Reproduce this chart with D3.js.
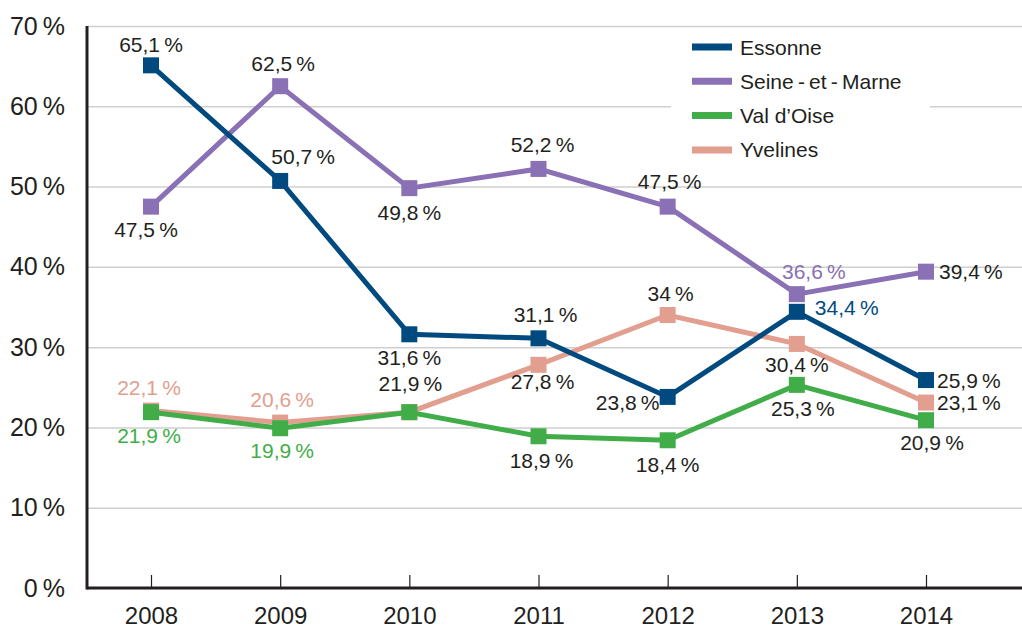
<!DOCTYPE html>
<html>
<head>
<meta charset="utf-8">
<script src="https://cdn.jsdelivr.net/npm/d3@7"></script>
<style>
  body { margin: 0; background: #fff; }
  svg { display: block; font-family: "Liberation Sans", Arial, sans-serif; }
</style>
</head>
<body>
<svg id="chart"></svg>
<script>
// données
const years = [2008, 2009, 2010, 2011, 2012, 2013, 2014];
const essonne = [65.1, 50.7, 31.6, 31.1, 23.8, 34.4, 25.9];
const seineEtMarne = [47.5, 62.5, 49.8, 52.2, 47.5, 36.6, 39.4];
const valDOise = [21.9, 19.9, 21.9, 18.9, 18.4, 25.3, 20.9];
const yvelines = [22.1, 20.6, 21.9, 27.8, 34, 30.4, 23.1];
const yTicks = [0, 10, 20, 30, 40, 50, 60, 70];

const [width, height] = [1022, 628];
const textColor = '#231f20';

// placement des étiquettes : [dx, dy, ancre, couleur de la série ?] ; null = pas d'étiquette
const series = [
  { name: 'Yvelines', values: yvelines, color: '#e29e8e',
    labels: [[-2, -23, 'middle', true], [2, -23, 'middle', true], null,
             [4, 17, 'middle', false], [3, -22, 'middle', false], [0, 21, 'middle', false], [11, 0, 'start', false]] },
  { name: "Val d\u2019Oise", values: valDOise, color: '#41ad49',
    labels: [[-2, 23, 'middle', true], [2, 22, 'middle', true], [1, -29, 'middle', false],
             [3, 24, 'middle', false], [0, 24, 'middle', false], [6, 24, 'middle', false], [6, 22, 'middle', false]] },
  { name: 'Seine\u2009-\u2009et\u2009-\u2009Marne', values: seineEtMarne, color: '#8a70b4',
    labels: [[-5, 23, 'middle', false], [3, -23, 'middle', false], [0, 24, 'middle', false],
             [4, -24, 'middle', false], [2, -25, 'middle', false], [17, -23, 'middle', true], [13, 0, 'start', false]] },
  { name: 'Essonne', values: essonne, color: '#004a80',
    labels: [[0, -21, 'middle', false], [23, -24, 'middle', false], [0, 23, 'middle', false],
             [7, -24, 'middle', false], [-40, 6, 'middle', false], [18, -4, 'start', true], [11, 0, 'start', false]] }
];
const legendOrder = ['Essonne', 'Seine\u2009-\u2009et\u2009-\u2009Marne', "Val d\u2019Oise", 'Yvelines'];

const fmt = v => String(v).replace('.', ',') + '\u2009%';

let svg = d3.select('#chart')
  .attr('width', width)
  .attr('height', height)

let x = d3.scalePoint()
  .domain(years)
  .range([151, 926])

let y = d3.scaleLinear()
  .domain([0, 70])
  .range([588, 26])

// axe vertical + grille
let yAxis = svg.append('g')
  .attr('transform', 'translate(87,0)')
  .call(d3.axisLeft(y)
    .tickValues(yTicks)
    .tickSize(-(width - 87))
    .tickPadding(22)
    .tickFormat(d => d + '\u2009%'))
yAxis.select('.domain').remove()
yAxis.selectAll('.tick line')
  .attr('stroke', '#cfcfcf')
  .attr('stroke-width', 1.5)
yAxis.selectAll('.tick text')
  .attr('fill', textColor)
  .style('font-size', '25px')

// cadre blanc de la légende (coupe la grille)
svg.append('rect')
  .attr('x', 671)
  .attr('y', 28)
  .attr('width', 259)
  .attr('height', 148)
  .attr('fill', '#fff')

// axe horizontal
let xAxis = svg.append('g')
  .attr('transform', 'translate(0,588)')
  .call(d3.axisBottom(x)
    .tickSize(-13)
    .tickPadding(19)
    .tickFormat(d => d))
xAxis.select('.domain').remove()
xAxis.selectAll('.tick line')
  .attr('stroke', textColor)
  .attr('stroke-width', 1.2)
xAxis.selectAll('.tick text')
  .attr('fill', textColor)
  .style('font-size', '24px')

svg.append('line')
  .attr('x1', 87).attr('x2', width)
  .attr('y1', 588).attr('y2', 588)
  .attr('stroke', textColor)
  .attr('stroke-width', 3)
svg.append('line')
  .attr('x1', 87).attr('x2', 87)
  .attr('y1', 26).attr('y2', 589.5)
  .attr('stroke', textColor)
  .attr('stroke-width', 3)

// courbes
let line = d3.line()
  .x((d, i) => x(years[i]))
  .y(d => y(d))

let groups = svg.append('g')
  .selectAll('g')
  .data(series)
  .enter()
  .append('g')

groups.append('path')
  .attr('d', d => line(d.values))
  .attr('fill', 'none')
  .attr('stroke', d => d.color)
  .attr('stroke-width', 5)

groups.selectAll('rect')
  .data(d => d.values.map((v, i) => ({ v: v, i: i, color: d.color })))
  .enter()
  .append('rect')
  .attr('x', d => x(years[d.i]) - 8)
  .attr('y', d => y(d.v) - 8)
  .attr('width', 16)
  .attr('height', 16)
  .attr('fill', d => d.color)

// étiquettes
let labelData = []
series.forEach(s => {
  s.values.forEach((v, i) => {
    let l = s.labels[i]
    if (!l) return
    labelData.push({ v: v, i: i, dx: l[0], dy: l[1], anchor: l[2], color: l[3] ? s.color : textColor })
  })
})
svg.append('g')
  .selectAll('text')
  .data(labelData)
  .enter()
  .append('text')
  .attr('x', d => x(years[d.i]) + d.dx)
  .attr('y', d => y(d.v) + d.dy)
  .attr('text-anchor', d => d.anchor)
  .attr('dominant-baseline', 'central')
  .attr('fill', d => d.color)
  .style('font-size', '21px')
  .text(d => fmt(d.v))

// légende
let legend = svg.append('g')
  .selectAll('g')
  .data(legendOrder.map(n => series.find(s => s.name === n)))
  .enter()
  .append('g')
  .attr('transform', (d, i) => 'translate(692,' + (47 + i * 34.3) + ')')
legend.append('line')
  .attr('x1', 0).attr('x2', 40)
  .attr('stroke', d => d.color)
  .attr('stroke-width', 7)
legend.append('text')
  .attr('x', 48)
  .attr('dominant-baseline', 'central')
  .attr('fill', textColor)
  .style('font-size', '21px')
  .text(d => d.name)
</script>
</body>
</html>
